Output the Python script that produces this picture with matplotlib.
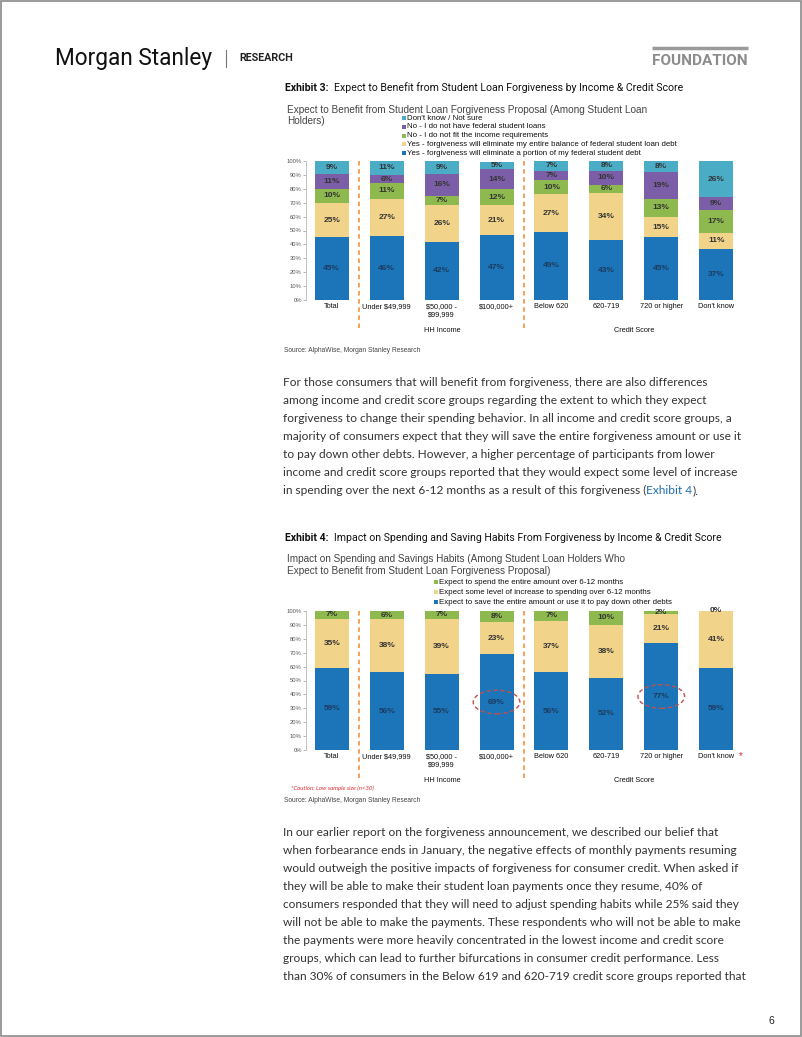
import numpy as np
import matplotlib
matplotlib.use("Agg")
import matplotlib.pyplot as plt
from matplotlib import font_manager
from matplotlib.patches import Ellipse, Rectangle

# ---- data ----
groups = ["Total", "Under $49,999", "$50,000 -\n$99,999", "$100,000+",
          "Below 620", "620-719", "720 or higher", "Don't know"]

# Exhibit 3 (bottom -> top)
ex3_portion = [45, 46, 42, 47, 49, 43, 45, 37]
ex3_entire = [25, 27, 26, 21, 27, 34, 15, 11]
ex3_no_income = [10, 11, 7, 12, 10, 6, 13, 17]
ex3_no_federal = [11, 6, 16, 14, 7, 10, 19, 9]
ex3_dont_know = [9, 11, 9, 5, 7, 8, 8, 26]
ex3_legend = ["Don't know / Not sure",
              "No - I do not have federal student loans",
              "No - I do not fit the income requirements",
              "Yes - forgiveness will eliminate my entire balance of federal student loan debt",
              "Yes - forgiveness will eliminate a portion of my federal student debt"]

# Exhibit 4 (bottom -> top)
ex4_save = [59, 56, 55, 69, 56, 52, 77, 59]
ex4_some = [35, 38, 39, 23, 37, 38, 21, 41]
ex4_spend = [7, 6, 7, 8, 7, 10, 2, 0]
ex4_legend = ["Expect to spend the entire amount over 6-12 months",
              "Expect some level of increase to spending over 6-12 months",
              "Expect to save the entire amount or use it to pay down other debts"]
ex4_circled = [3, 6]

para1 = ["For those consumers that will benefit from forgiveness, there are also differences",
         "among income and credit score groups regarding the extent to which they expect",
         "forgiveness to change their spending behavior. In all income and credit score groups, a",
         "majority of consumers expect that they will save the entire forgiveness amount or use it",
         "to pay down other debts. However, a higher percentage of participants from lower",
         "income and credit score groups reported that they would expect some level of increase",
         "in spending over the next 6-12 months as a result of this forgiveness ("]
para2 = ["In our earlier report on the forgiveness announcement, we described our belief that",
         "when forbearance ends in January, the negative effects of monthly payments resuming",
         "would outweigh the positive impacts of forgiveness for consumer credit. When asked if",
         "they will be able to make their student loan payments once they resume, 40% of",
         "consumers responded that they will need to adjust spending habits while 25% said they",
         "will not be able to make the payments. These respondents who will not be able to make",
         "the payments were more heavily concentrated in the lowest income and credit score",
         "groups, which can lead to further bifurcations in consumer credit performance. Less",
         "than 30% of consumers in the Below 619 and 620-719 credit score groups reported that"]

BLUE = "#1B75B8"
YELLOW = "#F2D38A"
GREEN = "#8DB94E"
PURPLE = "#7B5EA7"
CYAN = "#4BACC6"
ORANGE = "#F59A4E"
RED = "#C0504D"
TXT = "#333333"

# condensed face for the masthead if it is there
NARROW = "Roboto"
try:
    font_manager.findfont(font_manager.FontProperties(family="Liberation Sans Narrow"),
                          fallback_to_default=False)
    NARROW = "Liberation Sans Narrow"
except Exception:
    pass

W, H = 802, 1037
fig = plt.figure(figsize=(W / 100, H / 100), dpi=100)
page = fig.add_axes([0, 0, 1, 1])
page.set_xlim(0, W)
page.set_ylim(H, 0)
page.axis("off")
renderer = fig.canvas.get_renderer()


def width_px(txt, size, **kw):
    t = page.text(0, 0, txt, fontsize=size, **kw)
    w = t.get_window_extent(renderer).width
    t.remove()
    return w


def fit(txt, target, **kw):
    return 10 * target / width_px(txt, 10, **kw)


def txt(x, y, s, **kw):
    kw.setdefault("va", "center")
    return page.text(x, y, s, **kw)


# page frame
page.add_patch(Rectangle((1, 1), W - 2, H - 2.5, fill=False, ec="#8a8a8a", lw=1.2))

# header
fs = fit("Morgan Stanley", 157, family=NARROW)
txt(55, 58, "Morgan Stanley", fontsize=fs, family=NARROW, color="#111111")
page.plot([226, 226], [50, 67], color="#777777", lw=0.8)
fs = fit("RESEARCH", 54, family="Roboto", weight="bold")
txt(239, 58, "RESEARCH", fontsize=fs, family="Roboto", weight="bold", color="#222222")
page.plot([652, 748], [48, 48], color="#9a9a9a", lw=2.5, solid_capstyle="butt")
fs = fit("FOUNDATION", 96, family=NARROW, weight="bold")
txt(652, 61, "FOUNDATION", fontsize=fs, family=NARROW, weight="bold", color="#8c8c8c")

TITLE_FS = fit("Exhibit 3:  Expect to Benefit from Student Loan Forgiveness by Income & Credit Score",
               396, family="Roboto")
SUB_FS = fit("Expect to Benefit from Student Loan Forgiveness Proposal (Among Student Loan", 362,
             family="Liberation Sans")
LEG_FS = fit(ex3_legend[3], 272, family="Liberation Sans")
PARA_FS = fit(para1[0], 425, family="Lato")
SRC_FS = fit("Source: AlphaWise, Morgan Stanley Research", 137, family="Liberation Sans")


def title(y, num, rest):
    t = txt(285, y, num, fontsize=TITLE_FS, family="Roboto", weight="bold", color="#111111")
    w = t.get_window_extent(renderer).width
    txt(285 + w + 6, y, rest, fontsize=TITLE_FS, family="Roboto", color="#111111")


def legend(x, y0, dy, labels, colors):
    for i, (lab, c) in enumerate(zip(labels, colors)):
        y = y0 + i * dy
        page.add_patch(Rectangle((x, y - 2), 4, 4, color=c, lw=0))
        txt(x + 5, y, lab, fontsize=LEG_FS, family="Liberation Sans", color="#111111")


def paragraph(y0, lines):
    ts = []
    for i, line in enumerate(lines):
        ts.append(txt(283, y0 + i * 18.1, line, fontsize=PARA_FS, family="Lato", color=TXT))
    return ts


def bar_chart(top, bottom, series, colors, label_colors):
    x0, x1 = 306, 742
    ax = fig.add_axes([x0 / W, 1 - bottom / H, (x1 - x0) / W, (bottom - top) / H])
    x = np.arange(len(groups))
    base = np.zeros(len(groups))
    for vals, c, lc in zip(series, colors, label_colors):
        v = np.array(vals) / 100
        ax.bar(x, v, 0.62, bottom=base, color=c, lw=0)
        for xi, b, h, val in zip(x, base, v, vals):
            ax.text(xi, b + h / 2, f"{val}%", ha="center", va="center", fontsize=6,
                    weight="bold", color=lc, family="Liberation Sans", clip_on=False)
        base = base + v
    ax.set_xlim(-0.47, len(groups) - 0.53)
    ax.set_ylim(0, 1)
    ax.set_yticks(np.linspace(0, 1, 11))
    ax.set_yticklabels([f"{int(round(t * 100))}%" for t in np.linspace(0, 1, 11)])
    ax.set_xticks(x)
    ax.set_xticklabels(groups, linespacing=1.2)
    ax.tick_params(axis="y", labelsize=4.2, labelcolor="#555555", length=2, width=0.5,
                   color="#999999", pad=1)
    ax.tick_params(axis="x", labelsize=5.3, labelcolor="#111111", length=0, pad=2.2)
    for lab in ax.get_xticklabels() + ax.get_yticklabels():
        lab.set_family("Liberation Sans")
    for s in ["top", "right", "bottom"]:
        ax.spines[s].set_visible(False)
    ax.spines["left"].set_color("#aaaaaa")
    ax.spines["left"].set_linewidth(0.5)
    ax.patch.set_alpha(0)
    for xs in (0.5, 3.5):
        ax.plot([xs, xs], [1.0, -0.2], color=ORANGE, lw=1.3, ls=(0, (2.5, 2)), clip_on=False)
    return ax


# ---- Exhibit 3 ----
title(88, "Exhibit 3:", "Expect to Benefit from Student Loan Forgiveness by Income & Credit Score")
txt(287, 110, "Expect to Benefit from Student Loan Forgiveness Proposal (Among Student Loan",
    fontsize=SUB_FS, family="Liberation Sans", color="#444444")
txt(287, 121, "Holders)", fontsize=SUB_FS, family="Liberation Sans", color="#444444")
legend(402, 118, 8.8, ex3_legend, [CYAN, PURPLE, GREEN, YELLOW, BLUE])

navy = "#1d3b60"
dark = "#333333"
bar_chart(161, 300, [ex3_portion, ex3_entire, ex3_no_income, ex3_no_federal, ex3_dont_know],
          [BLUE, YELLOW, GREEN, PURPLE, CYAN], [navy, dark, dark, dark, dark])
txt(442, 330, "HH Income", fontsize=5.3, family="Liberation Sans", ha="center", color="#111111")
txt(634, 330, "Credit Score", fontsize=5.3, family="Liberation Sans", ha="center", color="#111111")
txt(284, 350, "Source: AlphaWise, Morgan Stanley Research", fontsize=SRC_FS,
    family="Liberation Sans", color="#444444")

ts = paragraph(382, para1)
w = ts[-1].get_window_extent(renderer).width
t = txt(283 + w, 382 + 6 * 18.1, "Exhibit 4", fontsize=PARA_FS, family="Lato", color="#1F6FB2")
w2 = t.get_window_extent(renderer).width
txt(283 + w + w2, 382 + 6 * 18.1, ").", fontsize=PARA_FS, family="Lato", color=TXT)

# ---- Exhibit 4 ----
title(538, "Exhibit 4:", "Impact on Spending and Saving Habits From Forgiveness by Income & Credit Score")
txt(287, 559, "Impact on Spending and Savings Habits (Among Student Loan Holders Who",
    fontsize=SUB_FS, family="Liberation Sans", color="#444444")
txt(287, 571, "Expect to Benefit from Student Loan Forgiveness Proposal)",
    fontsize=SUB_FS, family="Liberation Sans", color="#444444")
legend(434, 582, 10, ex4_legend, [GREEN, YELLOW, BLUE])

ax2 = bar_chart(611, 750, [ex4_save, ex4_some, ex4_spend], [BLUE, YELLOW, GREEN],
                [navy, dark, dark])
for i in ex4_circled:
    yc = ex4_save[i] / 200
    ax2.add_patch(Ellipse((i, yc), 0.85, 0.17, fill=False, ec=RED, lw=1.0,
                          ls=(0, (3, 2)), clip_on=False, zorder=5))
txt(442, 781, "HH Income", fontsize=5.3, family="Liberation Sans", ha="center", color="#111111")
txt(634, 781, "Credit Score", fontsize=5.3, family="Liberation Sans", ha="center", color="#111111")
txt(739, 756, "*", fontsize=7, family="Liberation Sans", color="#E03030")
txt(291, 788, "*Caution: Low sample size (n<30)", fontsize=4.3, family="Lato",
    style="italic", color="#E03030")
txt(284, 801, "Source: AlphaWise, Morgan Stanley Research", fontsize=SRC_FS,
    family="Liberation Sans", color="#444444")

paragraph(832, para2)
txt(771, 1021, "6", fontsize=7.5, family="Liberation Sans", ha="center", color="#222222")

fig.savefig("out.png", dpi=100)
